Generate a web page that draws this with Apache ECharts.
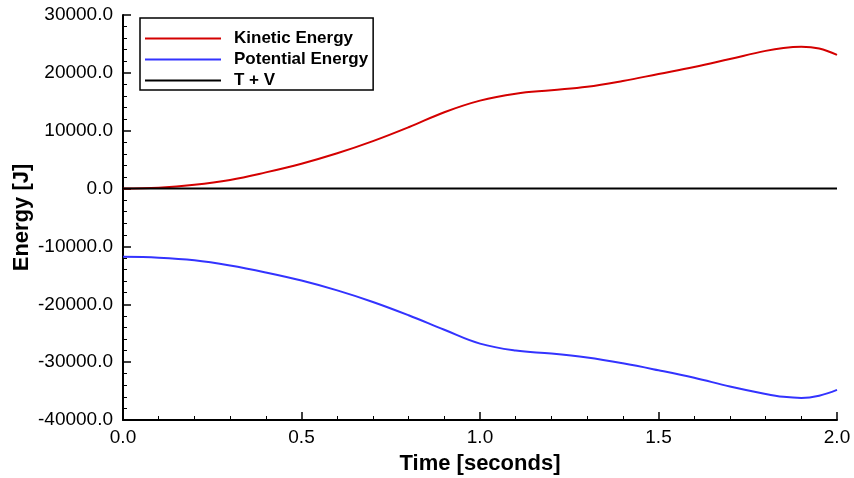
<!DOCTYPE html>
<html>
<head>
<meta charset="utf-8">
<title>Energy vs Time</title>
<script src="https://cdn.jsdelivr.net/npm/echarts@6/dist/echarts.min.js"></script>
<style>
    html, body { margin: 0; padding: 0; background: #fff; }
    #chart { width: 854px; height: 478px; }
</style>
</head>
<body>
<div id="chart"></div>
<script>
// values
const timeValues = [0, 0.1, 0.2, 0.3, 0.4, 0.5, 0.6, 0.7, 0.8, 0.9, 1.0,
    1.1, 1.2, 1.3, 1.4, 1.5, 1.6, 1.7, 1.8, 1.85, 1.9, 1.95, 2.0];
const kineticEnergy = [0, 150, 650, 1500, 2800, 4300, 6100, 8200, 10600, 13200, 15200,
    16400, 17000, 17600, 18600, 19800, 21000, 22400, 23800, 24300, 24500, 24200, 23100];
const potentialEnergy = [-11800, -11950, -12400, -13300, -14500, -15900, -17600, -19600, -21900, -24400, -26800,
    -28000, -28500, -29200, -30200, -31400, -32700, -34200, -35500, -36000, -36200, -35800, -34800];
const totalEnergy = [0, 0, 0, 0, 0, 0, 0, 0, 0, 0, 0,
    0, 0, 0, 0, 0, 0, 0, 0, 0, 0, 0, 0];
const seriesNames = ['Kinetic Energy', 'Potential Energy', 'T + V'];

const font = '"Liberation Sans", Arial, Helvetica, sans-serif';

function pairs(values) {
    return timeValues.map((t, i) => [t, values[i]]);
}

const chart = echarts.init(document.getElementById('chart'));

chart.setOption({
    animation: false,
    backgroundColor: '#fff',
    grid: { left: 123, right: 17, top: 15, bottom: 58, containLabel: false, outerBoundsMode: 'none' },
    legend: {
        orient: 'vertical',
        left: 140,
        top: 18,
        data: seriesNames,
        itemWidth: 76,
        itemHeight: 14,
        itemGap: 4,
        padding: [12, 5, 1, 4],
        borderColor: '#000',
        borderWidth: 1.5,
        backgroundColor: '#fff',
        // hide the symbol, keep only the line sample
        itemStyle: { opacity: 0 },
        textStyle: {
            fontFamily: font,
            fontSize: 17,
            fontWeight: 'bold',
            color: '#000',
            padding: [0, 0, 0, 8]
        }
    },
    xAxis: {
        type: 'value',
        min: 0,
        max: 2,
        interval: 0.5,
        name: 'Time [seconds]',
        nameLocation: 'middle',
        nameGap: 33,
        nameMoveOverlap: false,
        nameTextStyle: { fontFamily: font, fontSize: 22, fontWeight: 'bold', color: '#000' },
        axisLine: { onZero: false, lineStyle: { color: '#000', width: 2 } },
        axisTick: { inside: true, length: 8, lineStyle: { color: '#000', width: 1.5 } },
        minorTick: { show: true, splitNumber: 5, length: 4, lineStyle: { color: '#000', width: 1 } },
        splitLine: { show: false },
        axisLabel: {
            margin: 8,
            fontFamily: font,
            fontSize: 19,
            color: '#000',
            formatter: v => v.toFixed(1)
        }
    },
    yAxis: {
        type: 'value',
        min: -40000,
        max: 30000,
        interval: 10000,
        name: 'Energy [J]',
        nameLocation: 'middle',
        nameGap: 90,
        nameMoveOverlap: false,
        nameTextStyle: { fontFamily: font, fontSize: 22, fontWeight: 'bold', color: '#000' },
        axisLine: { show: true, onZero: false, lineStyle: { color: '#000', width: 2 } },
        axisTick: { show: true, inside: true, length: 8, lineStyle: { color: '#000', width: 1.5 } },
        minorTick: { show: true, splitNumber: 5, length: 4, lineStyle: { color: '#000', width: 1 } },
        splitLine: { show: false },
        axisLabel: {
            margin: 10,
            fontFamily: font,
            fontSize: 19,
            color: '#000',
            formatter: v => v.toFixed(1)
        }
    },
    series: [{
        name: seriesNames[0],
        type: 'line',
        data: pairs(kineticEnergy),
        smooth: 0.4,
        symbol: 'none',
        lineStyle: { color: '#d40000', width: 2 },
        itemStyle: { color: '#d40000' }
    }, {
        name: seriesNames[1],
        type: 'line',
        data: pairs(potentialEnergy),
        smooth: 0.4,
        symbol: 'none',
        lineStyle: { color: '#3333ff', width: 2 },
        itemStyle: { color: '#3333ff' }
    }, {
        name: seriesNames[2],
        type: 'line',
        data: pairs(totalEnergy),
        symbol: 'none',
        lineStyle: { color: '#000', width: 2 },
        itemStyle: { color: '#000' }
    }]
});
</script>
</body>
</html>
